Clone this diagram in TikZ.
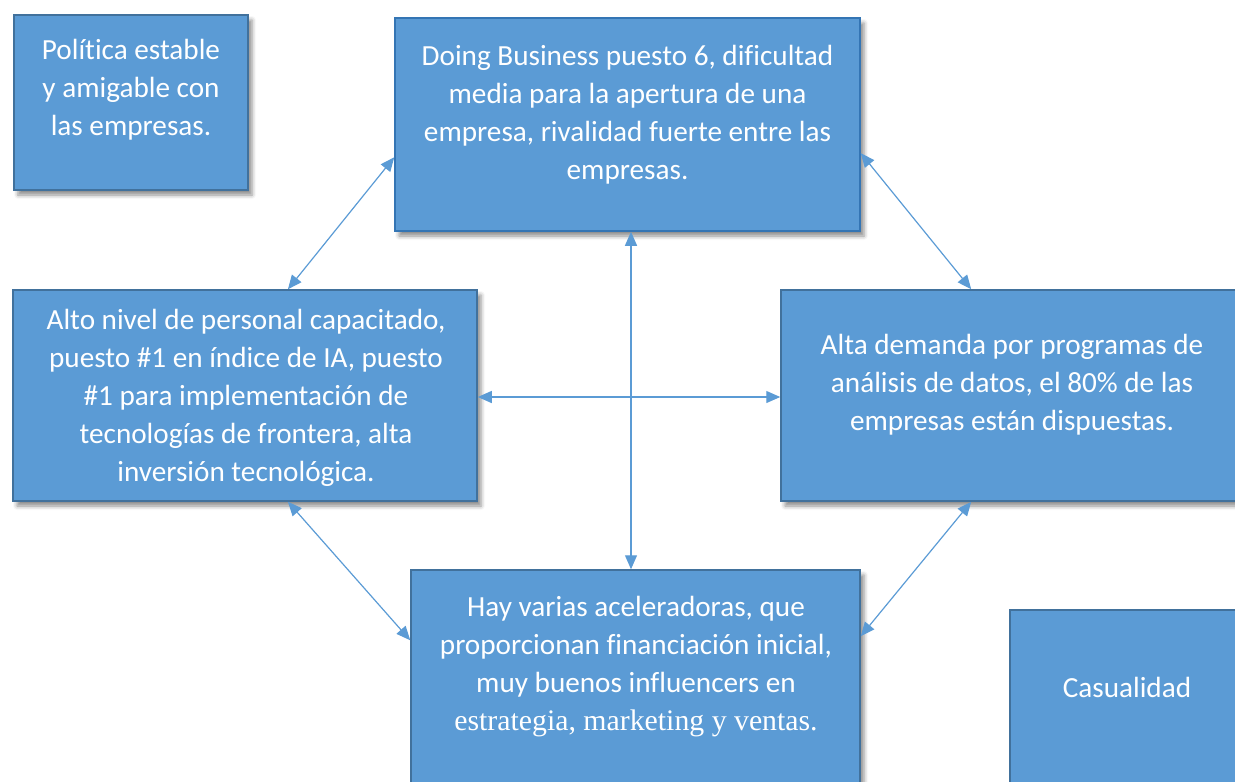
\documentclass[tikz,border=0pt]{standalone}
\usepackage{fontspec}
\setmainfont{Carlito}[Ligatures=CommonOff]
\newfontfamily\serifpart{Liberation Serif}[Ligatures=CommonOff]
\usetikzlibrary{arrows.meta, positioning, shadows.blur}
\definecolor{boxfill}{RGB}{91,155,213}
\definecolor{boxline}{RGB}{65,113,156}
\definecolor{boxlinetop}{RGB}{52,117,180}

\begin{document}
\begin{tikzpicture}[
        x=1pt, y=-1pt, >={Triangle[length=14pt,width=12pt]},
        box/.style={draw=boxline, line width=1.5pt, fill=boxfill, inner sep=0pt},
        shadowed/.style={blur shadow={shadow xshift=4pt, shadow yshift=-5pt,
            shadow blur radius=4pt, shadow opacity=45}},
        txt/.style={text=white, align=center, font=\fontsize{29.2}{38}\selectfont},
        link/.style={<->, draw=boxfill, line width=1.2pt}
        ]

        \useasboundingbox (0,0) rectangle (1235,782);
        \clip (0,0) rectangle (1235,782);

        % boxes
        \node[box, shadowed, minimum width=234pt, minimum height=175pt] (pol)  at (131,102.5) {};
        \node[box, shadowed, draw=boxlinetop, minimum width=465pt, minimum height=213pt] (dbiz) at (627.5,124.5) {};
        \node[box, shadowed, minimum width=464pt, minimum height=211pt] (alto) at (245,395.5) {};
        \node[box, shadowed, minimum width=462pt, minimum height=211pt] (alta) at (1012,395.5) {};
        \node[box, shadowed, minimum width=449pt, minimum height=220pt] (hay)  at (635.5,680) {};
        \node[box, minimum width=234pt, minimum height=180pt]           (cas)  at (1127,700) {};

        % texts
        \node[txt] (pol-txt)  at (131,90)    {Política estable\\y amigable con\\las empresas.};
        \node[txt] (dbiz-txt) at (627.5,115) {Doing Business puesto 6, dificultad\\media para la apertura de una\\empresa, rivalidad fuerte entre las\\empresas.};
        \node[txt] (alto-txt) at (246,397.5) {Alto nivel de personal capacitado,\\puesto \#1 en índice de IA, puesto\\\#1 para implementación de\\tecnologías de frontera, alta\\inversión tecnológica.};
        \node[txt] (alta-txt) at (1012,385)  {Alta demanda por programas de\\análisis de datos, el 80\% de las\\empresas están dispuestas.};
        \node[txt] (hay-txt)  at (636,667)   {Hay varias aceleradoras, que\\proporcionan financiación inicial,\\muy buenos influencers en\\{\serifpart\fontsize{29.8}{38}\selectfont estrategia, marketing y ventas.}};
        \node[txt] (cas-txt)  at (1127,687)  {Casualidad};

        % connectors
        \coordinate (mid) at (631,397);
        \draw[link] (dbiz.188) -- (alto.68);
        \draw[link] (dbiz.-7.5) -- (alta.111.5);
        \draw[link] (dbiz.south -| mid) -- (hay.north -| mid);
        \draw[link] (alto.east |- mid) -- (alta.west |- mid);
        \draw[link] (alto.-68.5) -- (hay.170);
        \draw[link] (hay.11.3) -- (alta.-111.4);
      \end{tikzpicture}
\end{document}
